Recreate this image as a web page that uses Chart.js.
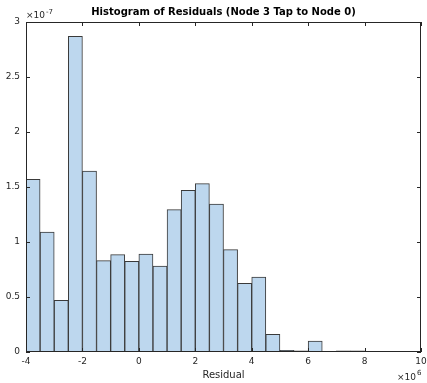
<!DOCTYPE html>
<html>
<head>
<meta charset="utf-8">
<script src="https://cdn.jsdelivr.net/npm/chart.js@4.4.0/dist/chart.umd.min.js"></script>
<style>
  html, body { margin: 0; padding: 0; background: #fff; }
</style>
</head>
<body>
<canvas id="chart" width="427" height="383"></canvas>
<script>
// Histogram bins (left edges, x 1e6) and bar heights (x 1e-7)
const binLeft = [-4, -3.5, -3, -2.5, -2, -1.5, -1, -0.5, 0, 0.5, 1, 1.5, 2, 2.5,
                 3, 3.5, 4, 4.5, 5, 5.5, 6, 6.5, 7, 7.5, 8, 8.5];
const binWidth = 0.5;
const density = [1.57, 1.09, 0.47, 2.87, 1.645, 0.83, 0.885, 0.825, 0.89, 0.78, 1.295,
                 1.47, 1.53, 1.345, 0.93, 0.625, 0.68, 0.16, 0.015, 0.01, 0.1, 0,
                 0.01, 0.01, 0.004, 0.004];
const xTicks = [-4, -2, 0, 2, 4, 6, 8, 10];
const yTicks = [0, 0.5, 1, 1.5, 2, 2.5, 3];
const titleText = 'Histogram of Residuals (Node 3 Tap to Node 0)';

const textColor = '#262626';
const fontFamily = '"DejaVu Sans", sans-serif';

// Matlab-style box with inward ticks, title over the axes, exponent labels
const boxPlugin = {
  id: 'box',
  afterDatasetsDraw(chart) {
    const { ctx, chartArea: a, scales: { x, y } } = chart;
    ctx.save();
    ctx.strokeStyle = textColor;
    ctx.lineWidth = 1;
    ctx.strokeRect(a.left + 0.5, a.top + 0.5, a.right - a.left - 1, a.bottom - a.top - 1);
    ctx.beginPath();
    xTicks.forEach(v => {
      const px = Math.round(x.getPixelForValue(v)) + 0.5;
      ctx.moveTo(px, a.bottom); ctx.lineTo(px, a.bottom - 4);
      ctx.moveTo(px, a.top); ctx.lineTo(px, a.top + 4);
    });
    yTicks.forEach(v => {
      const py = Math.round(y.getPixelForValue(v)) + 0.5;
      ctx.moveTo(a.left, py); ctx.lineTo(a.left + 4, py);
      ctx.moveTo(a.right, py); ctx.lineTo(a.right - 4, py);
    });
    ctx.stroke();

    // title centred over the axes
    ctx.fillStyle = '#000';
    ctx.font = 'bold 10px ' + fontFamily;
    ctx.textAlign = 'center';
    ctx.textBaseline = 'middle';
    ctx.fillText(titleText, (a.left + a.right) / 2, 12);

    ctx.fillStyle = textColor;
    ctx.textBaseline = 'alphabetic';
    ctx.textAlign = 'left';
    // y exponent
    ctx.font = '9px ' + fontFamily;
    ctx.fillText('\u00d710', a.left, a.top - 4);
    let w = ctx.measureText('\u00d710').width;
    ctx.font = '7px ' + fontFamily;
    ctx.fillText('-7', a.left + w + 1, a.top - 8);
    // x exponent
    ctx.font = '9px ' + fontFamily;
    w = ctx.measureText('\u00d710').width;
    ctx.fillText('\u00d710', a.right - w - 5, 380);
    ctx.font = '7px ' + fontFamily;
    ctx.fillText('6', a.right - 4, 375);
    ctx.restore();
  }
};

new Chart(document.getElementById('chart'), {
  type: 'bar',
  data: {
    datasets: [{
      data: binLeft.map((l, i) => ({ x: l + binWidth / 2, y: density[i] })),
      backgroundColor: '#bdd7ee',
      borderColor: '#3a3a3a',
      borderWidth: 1,
      barPercentage: 1,
      categoryPercentage: 1
    }]
  },
  options: {
    responsive: false,
    devicePixelRatio: 1,
    animation: false,
    layout: { padding: { left: 0, right: 6, top: 22, bottom: 0 } },
    plugins: {
      legend: { display: false },
      tooltip: { enabled: false },
      title: { display: false }
    },
    scales: {
      x: {
        type: 'linear',
        min: -4, max: 10,
        offset: false,
        grid: { display: false, drawTicks: false },
        border: { display: false },
        afterBuildTicks: s => { s.ticks = xTicks.map(v => ({ value: v })); },
        afterFit: s => { s.height = 31; s.paddingLeft = 0; s.paddingRight = 0; },
        ticks: {
          color: textColor, font: { family: fontFamily, size: 9 }, padding: 4, maxRotation: 0,
          callback: v => String(v)
        },
        title: {
          display: true, text: 'Residual', color: textColor,
          font: { family: fontFamily, size: 10 }, padding: { top: 0, bottom: 2 }
        }
      },
      y: {
        min: 0, max: 3,
        grid: { display: false, drawTicks: false },
        border: { display: false },
        afterBuildTicks: s => { s.ticks = yTicks.map(v => ({ value: v })); },
        afterFit: s => { s.width = 26; s.paddingTop = 0; s.paddingBottom = 0; },
        ticks: {
          color: textColor, font: { family: fontFamily, size: 9 }, padding: 6,
          callback: v => String(v)
        }
      }
    }
  },
  plugins: [boxPlugin]
});
</script>
</body>
</html>
